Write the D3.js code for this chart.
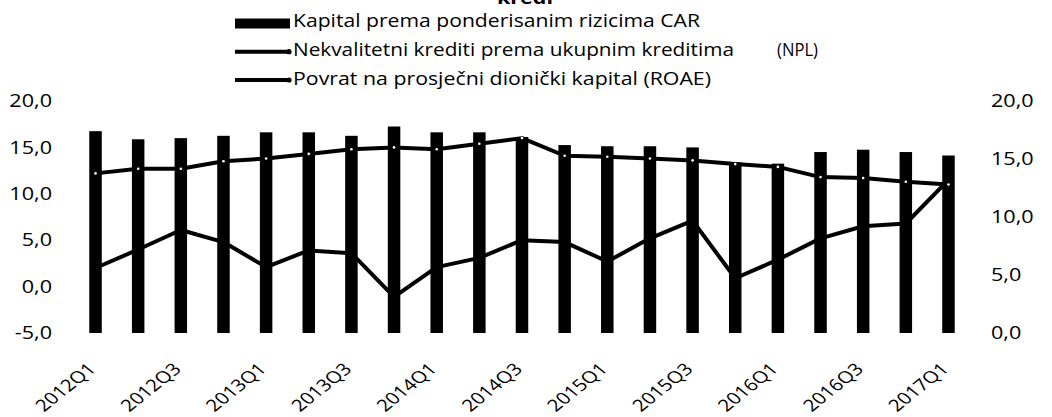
<!DOCTYPE html>
<html>
<head>
<meta charset="utf-8">
<script src="https://cdn.jsdelivr.net/npm/d3@7"></script>
<style>
  body { margin: 0; background: #fff; }
  svg { display: block; }
  text { font-family: 'Open Sans', sans-serif; fill: #000; }
</style>
</head>
<body>
<svg id="chart" width="1052" height="417"></svg>
<script>
const quarters = ['2012Q1','2012Q2','2012Q3','2012Q4','2013Q1','2013Q2','2013Q3','2013Q4',
  '2014Q1','2014Q2','2014Q3','2014Q4','2015Q1','2015Q2','2015Q3','2015Q4',
  '2016Q1','2016Q2','2016Q3','2016Q4','2017Q1'];
const tickLabels = ['2012Q1','2012Q3','2013Q1','2013Q3','2014Q1','2014Q3','2015Q1','2015Q3','2016Q1','2016Q3','2017Q1'];

// CAR (bars, right axis)
const car = [17.4, 16.7, 16.8, 17.0, 17.3, 17.3, 17.0, 17.8, 17.3, 17.3, 16.9,
  16.2, 16.1, 16.1, 16.0, 14.7, 14.6, 15.6, 15.8, 15.6, 15.3];
// NPL (line, left axis)
const npl = [12.2, 12.7, 12.7, 13.5, 13.8, 14.3, 14.8, 15.0, 14.8, 15.4, 16.0,
  14.1, 14.0, 13.8, 13.6, 13.2, 12.9, 11.8, 11.7, 11.3, 11.0];
// ROAE (line, left axis)
const roae = [2.0, 4.0, 6.1, 4.8, 2.1, 3.9, 3.6, -1.1, 2.1, 3.1, 5.0,
  4.8, 2.7, 5.2, 7.1, 0.9, 2.9, 5.2, 6.5, 6.8, 11.5];

const leftTicks = [-5, 0, 5, 10, 15, 20];
const rightTicks = [0, 5, 10, 15, 20];
const legendNames = ['Kapital prema ponderisanim rizicima CAR',
  'Nekvalitetni krediti prema ukupnim kreditima',
  'Povrat na prosječni dionički kapital  (ROAE)'];

const svg = d3.select('#chart');
const fmt = d3.formatLocale({decimal: ',', thousands: '.', grouping: [3], currency: ['', ''], minus: '-'}).format('.1f');

const x = d3.scaleBand().domain(quarters).range([74.2, 969.8])
  .paddingInner(0.707).paddingOuter(0.3535);
const bw = x.bandwidth();
const yL = d3.scaleLinear().domain([-5, 20]).range([333, 101]);
const yR = d3.scaleLinear().domain([0, 20]).range([333, 101]);

// bars
svg.append('g').selectAll('rect')
  .data(quarters.map((q, i) => ({q, v: car[i]})))
  .enter().append('rect')
    .attr('x', d => x(d.q))
    .attr('y', d => yR(d.v))
    .attr('width', bw)
    .attr('height', d => yR(0) - yR(d.v))
    .attr('fill', '#000');

const line = d3.line()
  .x(d => x(d.q) + bw / 2)
  .y(d => yL(d.v));

const nplData = quarters.map((q, i) => ({q, v: npl[i]}));
const roaeData = quarters.map((q, i) => ({q, v: roae[i]}));

[nplData, roaeData].forEach(series => {
  svg.append('path')
    .datum(series)
    .attr('d', line)
    .attr('fill', 'none')
    .attr('stroke', '#000')
    .attr('stroke-width', 4)
    .attr('stroke-linejoin', 'round');
});

// small white markers on NPL
svg.append('g').selectAll('circle')
  .data(nplData)
  .enter().append('circle')
    .attr('cx', d => x(d.q) + bw / 2)
    .attr('cy', d => yL(d.v))
    .attr('r', 1.3)
    .attr('fill', '#fff');

// axes
const styleAxis = (g, size) => {
  g.select('.domain').remove();
  g.attr('font-family', null).attr('font-size', null);
  g.selectAll('text').style('font-size', size + 'px');
};

svg.append('g')
  .attr('transform', 'translate(52,0)')
  .call(d3.axisLeft(yL).tickValues(leftTicks).tickSize(0).tickPadding(0).tickFormat(fmt))
  .call(g => styleAxis(g, 18))
  .selectAll('text')
    .attr('x', 0)
    .attr('transform', 'scale(1.2,1)');

svg.append('g')
  .attr('transform', 'translate(991,0)')
  .call(d3.axisRight(yR).tickValues(rightTicks).tickSize(0).tickPadding(0).tickFormat(fmt))
  .call(g => styleAxis(g, 18))
  .selectAll('text')
    .attr('x', 0)
    .attr('transform', 'scale(1.2,1)');

// category labels: rotated -45deg, then stretched 1.25 horizontally (as in the scan)
const labelG = svg.append('g').selectAll('g')
  .data(tickLabels)
  .enter().append('g')
    .attr('transform', d => `matrix(0.8839,-0.7071,0.8839,0.7071,${x(d) + bw / 2 + 1.5},370)`);
labelG.append('text')
  .attr('text-anchor', 'end')
  .style('font-size', '16.5px')
  .text(d => d);

// title (cut off at top)
svg.append('text')
  .attr('x', 497).attr('y', 4)
  .attr('font-weight', 'bold')
  .style('font-size', '18px')
  .attr('textLength', 56)
  .attr('lengthAdjust', 'spacingAndGlyphs')
  .text('kredi');

// legend
const legend = svg.append('g');
legend.append('rect')
  .attr('x', 235).attr('y', 18.5).attr('width', 55).attr('height', 10)
  .attr('fill', '#000');
[51.7, 80].forEach(ly => {
  legend.append('line')
    .attr('x1', 235).attr('x2', 290).attr('y1', ly).attr('y2', ly)
    .attr('stroke', '#000').attr('stroke-width', 4);
  legend.append('circle').attr('cx', 289).attr('cy', ly).attr('r', 2.6).attr('fill', '#000');
});
const legendRows = [
  {name: legendNames[0], y: 27, w: 407},
  {name: legendNames[1], y: 56, w: 441},
  {name: legendNames[2], y: 85, w: 418}
];
legend.selectAll('text.lg')
  .data(legendRows)
  .enter().append('text')
    .attr('class', 'lg')
    .attr('x', 293)
    .attr('y', d => d.y)
    .style('font-size', '18px')
    .attr('textLength', d => d.w)
    .attr('lengthAdjust', 'spacingAndGlyphs')
    .text(d => d.name);
legend.append('text')
  .attr('x', 777).attr('y', 56)
  .style('font-size', '18px')
  .attr('textLength', 41)
  .attr('lengthAdjust', 'spacingAndGlyphs')
  .text('(NPL)');
</script>
</body>
</html>
